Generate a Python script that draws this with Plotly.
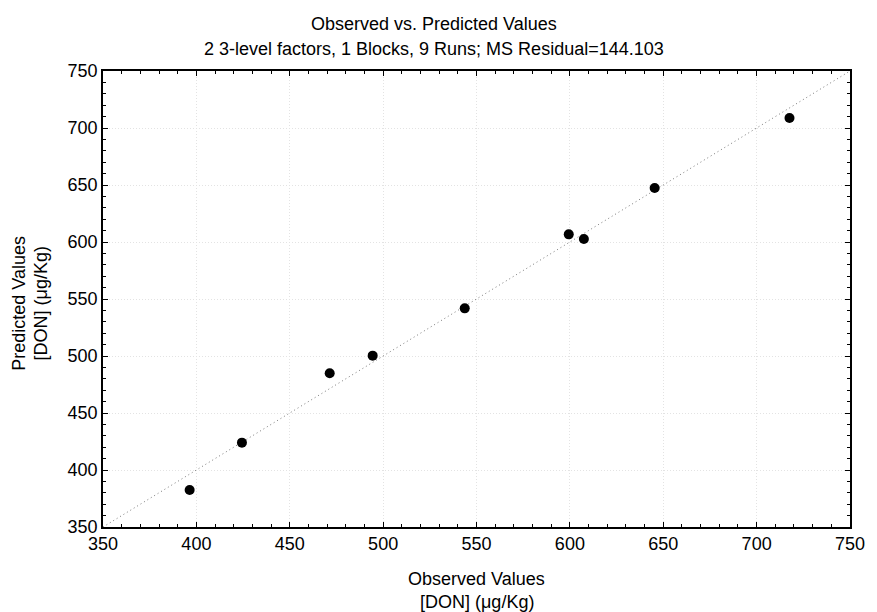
import plotly.graph_objects as go

observed = [396.4, 424.4, 471.4, 494.4, 543.7, 599.4, 607.5, 645.4, 717.6]
predicted = [382.5, 424.0, 484.8, 500.3, 541.8, 606.7, 602.6, 647.4, 708.8]
ref_line = [350, 750]

title_lines = ["Observed vs. Predicted Values",
               "2 3-level factors, 1 Blocks, 9 Runs; MS Residual=144.103"]
x_title_lines = ["Observed Values", "[DON] (μg/Kg)"]
y_title_lines = ["Predicted Values", "[DON] (μg/Kg)"]
tick_vals = [350, 400, 450, 500, 550, 600, 650, 700, 750]

FONT = "Liberation Sans, Arial, sans-serif"
FS = 18

fig = go.Figure()
fig.add_trace(go.Scatter(x=ref_line, y=ref_line, mode="lines",
                         line=dict(color="#7a7a7a", width=1, dash="1px,3px"),
                         hoverinfo="skip", showlegend=False))
fig.add_trace(go.Scatter(x=observed, y=predicted, mode="markers",
                         marker=dict(color="black", size=10),
                         showlegend=False))

axis_common = dict(
    range=[350, 750], tickvals=tick_vals, ticks="inside", ticklen=5,
    tickwidth=1, tickcolor="black", showline=True, linecolor="black",
    linewidth=1.5, mirror="allticks", showgrid=True, gridcolor="#e3e3e3",
    gridwidth=1, griddash="1px,2px", zeroline=False,
    tickfont=dict(family=FONT, size=FS, color="black"),
    minor=dict(dtick=10, ticks="inside", ticklen=3, tickcolor="black",
               showgrid=False),
)
fig.update_xaxes(**axis_common)
fig.update_yaxes(**axis_common)

annotations = []
for txt, py in zip(title_lines, [24, 49]):
    annotations.append(dict(text=txt, xref="paper", yref="paper",
                            x=(438.5 - 103) / 758, y=(527 - py) / 456,
                            xanchor="center", yanchor="middle", showarrow=False,
                            font=dict(family=FONT, size=FS, color="black")))
for txt, py in zip(x_title_lines, [579, 602]):
    annotations.append(dict(text=txt, xref="paper", yref="paper",
                            x=0.5, y=(527 - py) / 456,
                            xanchor="center", yanchor="middle", showarrow=False,
                            font=dict(family=FONT, size=FS, color="black")))
for txt, px in zip(y_title_lines, [17, 40]):
    annotations.append(dict(text=txt, xref="paper", yref="paper",
                            x=(px - 103) / 758, y=0.49,
                            xanchor="center", yanchor="middle", showarrow=False,
                            textangle=-90,
                            font=dict(family=FONT, size=FS, color="black")))

fig.update_layout(
    width=877, height=612,
    margin=dict(l=103, r=16, t=71, b=85),
    paper_bgcolor="white", plot_bgcolor="white",
    annotations=annotations,
    font=dict(family=FONT, size=FS, color="black"),
)

fig.write_html("out.html")
